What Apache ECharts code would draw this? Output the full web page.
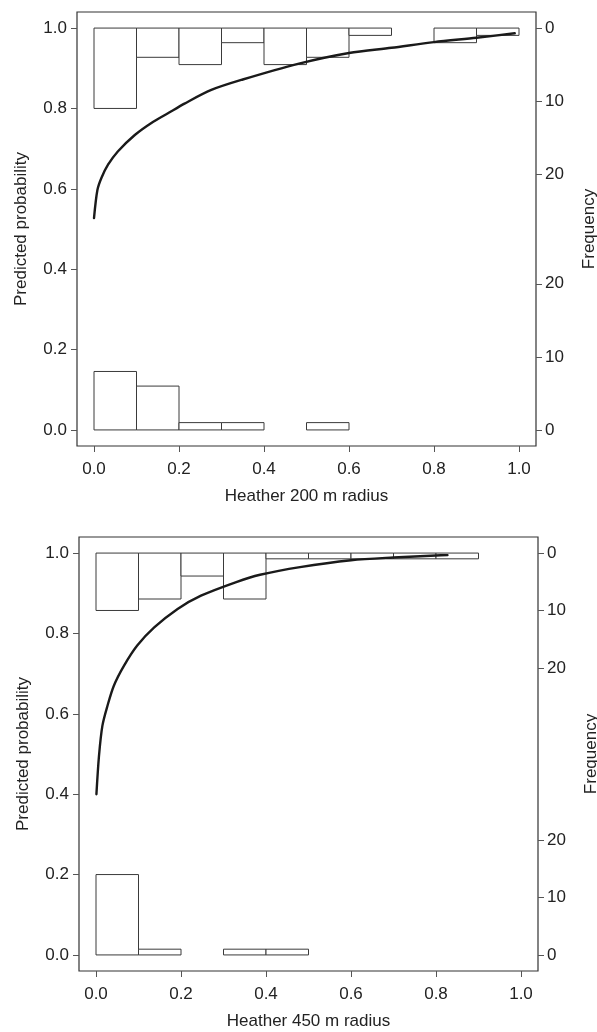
<!DOCTYPE html>
<html>
<head>
<meta charset="utf-8">
<script src="https://cdn.jsdelivr.net/npm/echarts@6/dist/echarts.min.js"></script>
<style>
html,body{margin:0;padding:0;background:#fff;}
#chart{width:597px;height:1032px;}
</style>
</head>
<body>
<div id="chart"></div>
<script>
// ---- data ----
const binEdges = [0, 0.1, 0.2, 0.3, 0.4, 0.5, 0.6, 0.7, 0.8, 0.9, 1.0];
const xTicks = [0, 0.2, 0.4, 0.6, 0.8, 1.0];
const yTicks = [0, 0.2, 0.4, 0.6, 0.8, 1.0];
const freqTicks = [0, 10, 20];

// Panel 1: Heather 200 m radius
const title1 = 'Heather 200 m radius';
const presentCounts1 = [11, 4, 5, 2, 5, 4, 1, 0, 2, 1];   // hanging from 1.0
const absentCounts1  = [8, 6, 1, 1, 0, 1, 0, 0, 0, 0];    // rising from 0.0
const curveX1 = [0, 0.008, 0.0174, 0.033, 0.056, 0.096, 0.135, 0.174, 0.213, 0.276, 0.35, 0.48, 0.6, 0.7, 0.8, 0.9, 0.99];
const curveY1 = [0.527, 0.597, 0.627, 0.66, 0.693, 0.734, 0.764, 0.788, 0.812, 0.846, 0.872, 0.911, 0.938, 0.951, 0.965, 0.976, 0.987];
const maxBar1 = 11;

// Panel 2: Heather 450 m radius
const title2 = 'Heather 450 m radius';
const presentCounts2 = [10, 8, 4, 8, 1, 1, 1, 1, 1, 0];
const absentCounts2  = [14, 1, 0, 1, 1, 0, 0, 0, 0, 0];
const curveX2 = [0.001, 0.007, 0.015, 0.027, 0.042, 0.066, 0.097, 0.137, 0.192, 0.247, 0.33, 0.386, 0.48, 0.6, 0.7, 0.8, 0.827];
const curveY2 = [0.40, 0.495, 0.57, 0.62, 0.67, 0.72, 0.77, 0.815, 0.861, 0.894, 0.928, 0.946, 0.965, 0.982, 0.989, 0.994, 0.995];
const maxBar2 = 14;

// ---- build ----
const FONT = 'Liberation Sans';
const TXT = '#222';
const LINE = '#333';
const histHeight = 0.2; // tallest bar spans 0.2 probability units

function binData(counts) {
  const out = [];
  counts.forEach((c, i) => { if (c > 0) out.push([binEdges[i], binEdges[i + 1], c]); });
  return out;
}
function histSeries(idx, counts, scale, fromTop) {
  return {
    type: 'custom',
    xAxisIndex: idx, yAxisIndex: idx * 2,
    data: binData(counts),
    encode: { x: [0, 1], y: 2 },
    silent: true,
    renderItem: function (params, api) {
      const x0 = api.value(0), x1 = api.value(1), c = api.value(2);
      const base = fromTop ? 1 : 0;
      const end = fromTop ? 1 - c * scale : c * scale;
      const p0 = api.coord([x0, base]);
      const p1 = api.coord([x1, end]);
      return {
        type: 'rect',
        shape: { x: Math.min(p0[0], p1[0]), y: Math.min(p0[1], p1[1]), width: Math.abs(p1[0] - p0[0]), height: Math.abs(p1[1] - p0[1]) },
        style: { fill: '#fff', stroke: '#3a3a3a', lineWidth: 1 }
      };
    }
  };
}
function curveSeries(idx, xs, ys) {
  return {
    type: 'line', xAxisIndex: idx, yAxisIndex: idx * 2,
    data: xs.map((x, i) => [x, ys[i]]),
    showSymbol: false, symbol: 'none', smooth: 0.3,
    lineStyle: { color: '#1a1a1a', width: 2.4, join: 'round', cap: 'round' }, z: 5, silent: true
  };
}
function xAxisOpt(idx, name) {
  return {
    type: 'value', gridIndex: idx, min: -0.04, max: 1.04, position: 'bottom',
    name: name, nameLocation: 'middle', nameGap: 42,
    nameTextStyle: { fontFamily: FONT, fontSize: 17, color: TXT },
    axisLine: { show: false, onZero: false },
    axisTick: { show: true, length: 6, lineStyle: { color: '#555' }, customValues: xTicks },
    axisLabel: { show: true, margin: 15, fontFamily: FONT, fontSize: 17, color: TXT, customValues: xTicks,
      formatter: v => v.toFixed(1) },
    splitLine: { show: false }
  };
}
function yLeftOpt(idx) {
  return {
    type: 'value', gridIndex: idx, min: -0.04, max: 1.04, position: 'left',
    name: 'Predicted probability', nameLocation: 'middle', nameGap: 47, nameRotate: 90,
    nameTextStyle: { fontFamily: FONT, fontSize: 17, color: TXT },
    axisLine: { show: false, onZero: false },
    axisTick: { show: true, length: 6, lineStyle: { color: '#555' }, customValues: yTicks },
    axisLabel: { show: true, margin: 10, fontFamily: FONT, fontSize: 17, color: TXT, customValues: yTicks,
      formatter: v => v.toFixed(1) },
    splitLine: { show: false }
  };
}
function yRightOpt(idx, scale) {
  const pos = freqTicks.map(c => c * scale).concat(freqTicks.map(c => 1 - c * scale));
  return {
    type: 'value', gridIndex: idx, min: -0.04, max: 1.04, position: 'right',
    name: 'Frequency', nameLocation: 'middle', nameGap: 45, nameRotate: 90,
    nameTextStyle: { fontFamily: FONT, fontSize: 17, color: TXT },
    axisLine: { show: false, onZero: false },
    axisTick: { show: true, length: 6, lineStyle: { color: '#555' }, customValues: pos },
    axisLabel: { show: true, margin: 9, fontFamily: FONT, fontSize: 17, color: TXT, customValues: pos,
      formatter: v => String(Math.round((v < 0.5 ? v : 1 - v) / scale)) },
    splitLine: { show: false }
  };
}

const s1 = histHeight / maxBar1;
const s2 = histHeight / maxBar2;

const gridBase = { show: true, borderColor: LINE, borderWidth: 1.2, backgroundColor: 'transparent',
  containLabel: false, outerBoundsMode: 'none' };
const option = {
  animation: false,
  backgroundColor: '#fff',
  grid: [
    Object.assign({ left: 77, top: 12, width: 459, height: 434 }, gridBase),
    Object.assign({ left: 79, top: 537, width: 459, height: 434 }, gridBase)
  ],
  xAxis: [xAxisOpt(0, title1), xAxisOpt(1, title2)],
  yAxis: [yLeftOpt(0), yRightOpt(0, s1), yLeftOpt(1), yRightOpt(1, s2)],
  series: [
    histSeries(0, presentCounts1, s1, true),
    histSeries(0, absentCounts1, s1, false),
    curveSeries(0, curveX1, curveY1),
    histSeries(1, presentCounts2, s2, true),
    histSeries(1, absentCounts2, s2, false),
    curveSeries(1, curveX2, curveY2)
  ]
};
const chart = echarts.init(document.getElementById('chart'), null, { renderer: 'canvas' });
chart.setOption(option);
</script>
</body>
</html>
